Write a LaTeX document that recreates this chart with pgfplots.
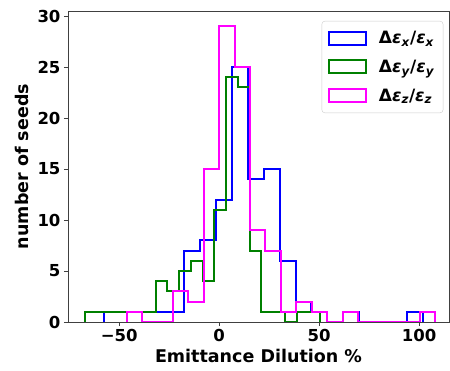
\documentclass[border=0pt]{standalone}
\usepackage{fontspec}
\setmainfont{DejaVu Sans}
\usepackage{pgfplots}
\pgfplotsset{compat=1.18}
\definecolor{mgreen}{RGB}{0,128,0}
\definecolor{mblue}{RGB}{0,0,255}
\definecolor{mmag}{RGB}{255,0,255}
\begin{document}
\begin{tikzpicture}[x=1pt,y=1pt]
\path[use as bounding box] (0,0) rectangle (450,370);
\begin{axis}[
  at={(68pt,48pt)}, anchor=south west,
  scale only axis, width=381pt, height=311pt,
  xmin=-75.6, xmax=114.9, ymin=0, ymax=30.5,
  axis on top,
  xtick={-50,0,50,100}, xticklabels={−50,0,50,100},
  ytick={0,5,10,15,20,25,30}, yticklabels={0,5,10,15,20,25,30},
  tick align=outside, major tick length=4pt,
  xtick pos=bottom, ytick pos=left,
  axis line style={black!75, line width=0.8pt},
  tick style={black!75, line width=0.8pt},
  tick label style={font=\fontsize{16.5}{18}\selectfont\bfseries},
  label style={font=\fontsize{17.5}{20}\selectfont\bfseries},
  xlabel={Emittance Dilution \%},
  ylabel={number of seeds},
  ylabel style={yshift=2pt},
  legend style={at={(0.985,0.968)}, anchor=north east, draw=black!20, rounded corners=3pt,
    font=\fontsize{17}{19}\selectfont\bfseries, row sep=11pt, column sep=10pt,
    inner xsep=6.5pt, inner ysep=8pt, nodes={inner sep=2pt}},
  legend cell align=left,
  legend image code/.code={\draw[#1, sharp corners] (0pt,-6.5pt) rectangle (36.6pt,6.5pt);},
]
\addplot[const plot, mblue, line width=2pt] coordinates {(-57.6,0) (-57.6,1) (-49.62,1) (-41.64,1) (-33.66,1) (-25.68,1) (-17.70,7) (-9.72,8) (-1.74,12) (6.24,25) (14.22,14) (22.20,15) (30.18,6) (38.16,2) (46.14,1) (54.12,0) (62.10,1) (70.08,0) (78.06,0) (86.04,0) (94.02,1) (102.00,0)};
\addlegendentry{Δ\textit{ε}\textsubscript{\textit{x}}/\textit{ε}\textsubscript{\textit{x}}}
\addplot[const plot, mgreen, line width=2pt] coordinates {(-67.1,0) (-67.1,1) (-61.225,1) (-55.35,1) (-49.475,1) (-43.6,1) (-37.725,1) (-31.85,4) (-25.975,3) (-20.1,5) (-14.225,6) (-8.35,4) (-2.475,11) (3.4,24) (9.275,23) (15.15,7) (21.025,1) (26.9,1) (32.775,0) (38.65,1) (44.525,1) (50.4,0)};
\addlegendentry{Δ\textit{ε}\textsubscript{\textit{y}}/\textit{ε}\textsubscript{\textit{y}}}
\addplot[const plot, mmag, line width=2pt] coordinates {(-46.25,0) (-46.25,1) (-38.54,0) (-30.83,0) (-23.12,3) (-15.41,2) (-7.70,15) (0.01,29) (7.72,25) (15.43,9) (23.14,7) (30.85,1) (38.56,2) (46.27,1) (53.98,0) (61.69,1) (69.40,0) (77.11,0) (84.82,0) (92.53,0) (100.24,1) (107.95,0)};
\addlegendentry{Δ\textit{ε}\textsubscript{\textit{z}}/\textit{ε}\textsubscript{\textit{z}}}
\end{axis}
\end{tikzpicture}
\end{document}
